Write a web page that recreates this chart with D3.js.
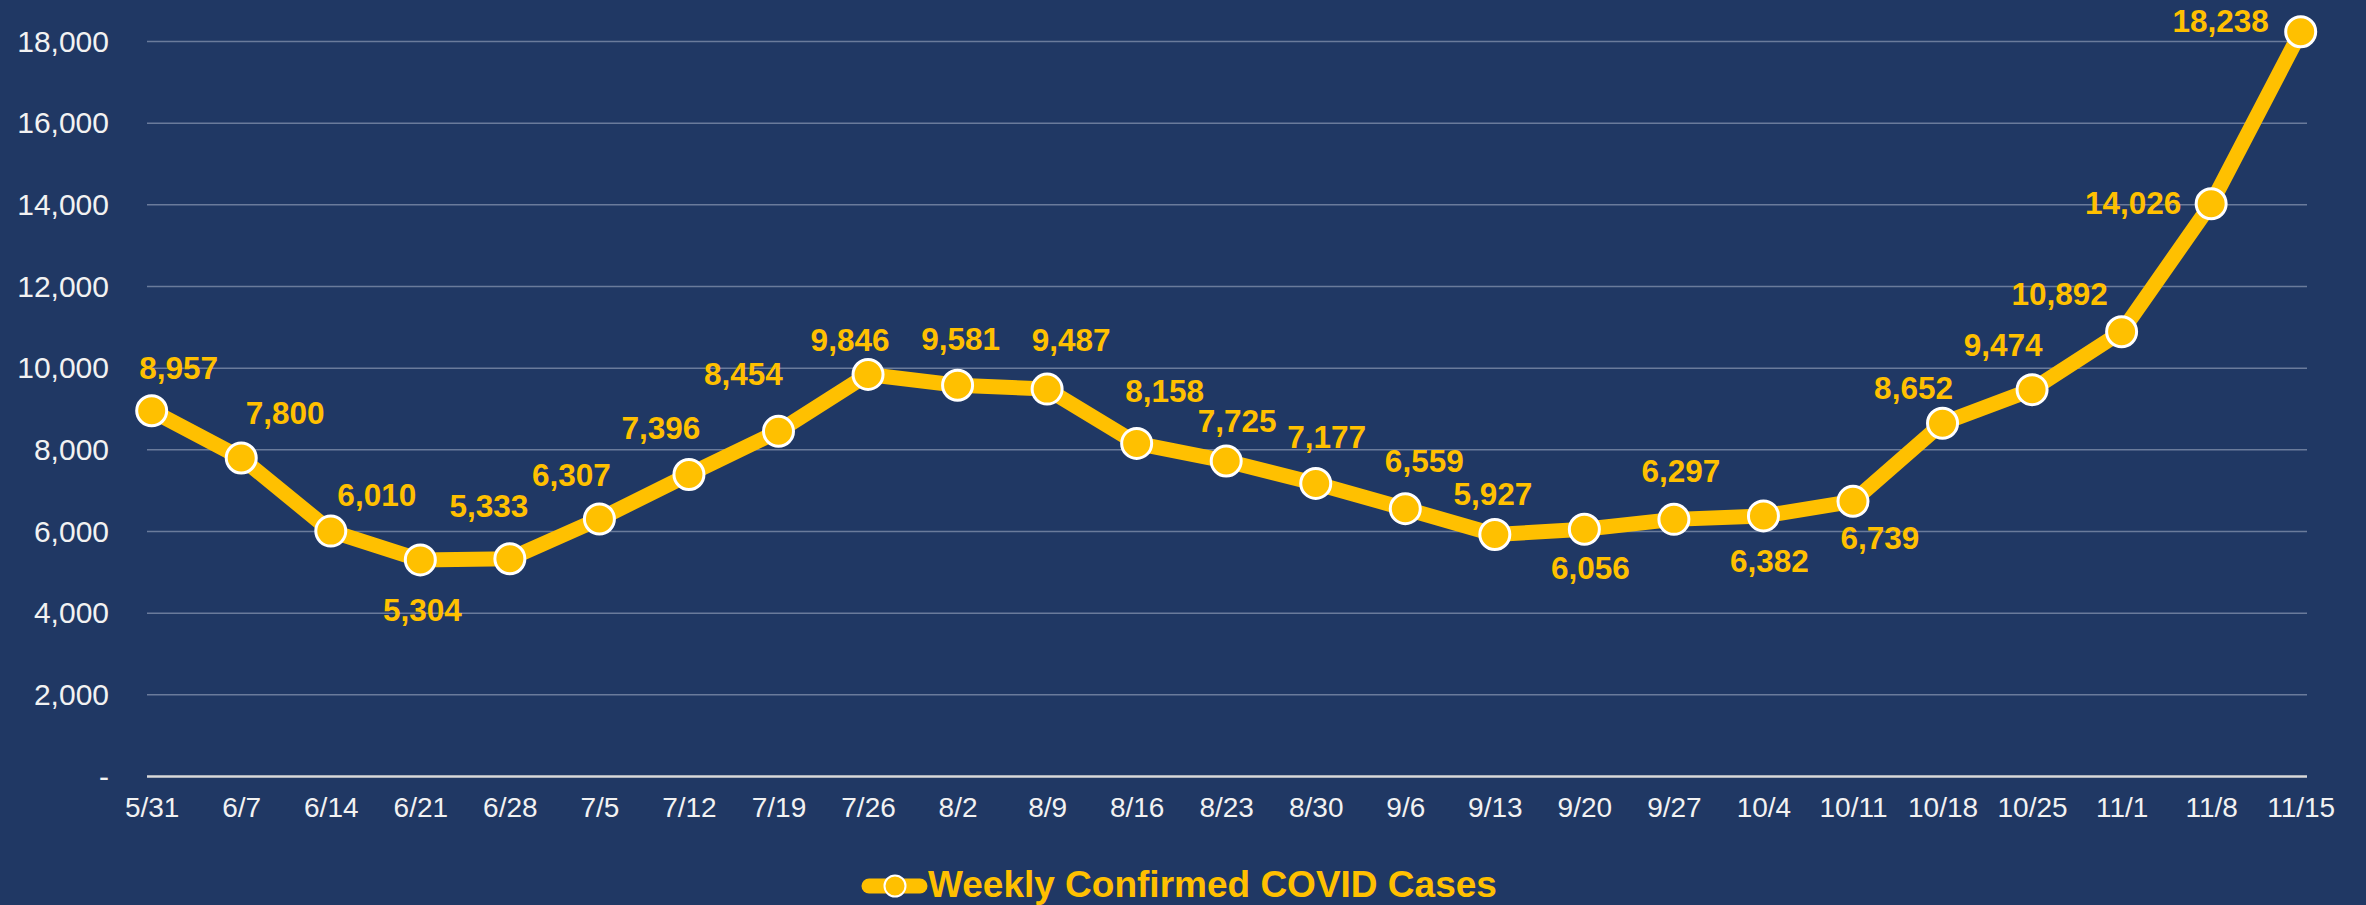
<!DOCTYPE html>
<html>
<head>
<meta charset="utf-8">
<script src="https://cdn.jsdelivr.net/npm/d3@7"></script>
<style>
  html, body { margin: 0; padding: 0; background: #203864; }
  svg { display: block; font-family: "Liberation Sans", Arial, sans-serif; }
</style>
</head>
<body>
<svg id="chart"></svg>
<script>
// Data
const weeks = ['5/31', '6/7', '6/14', '6/21', '6/28', '7/5', '7/12', '7/19', '7/26', '8/2', '8/9',
    '8/16', '8/23', '8/30', '9/6', '9/13', '9/20', '9/27', '10/4', '10/11', '10/18', '10/25',
    '11/1', '11/8', '11/15']
const cases = [8957, 7800, 6010, 5304, 5333, 6307, 7396, 8454, 9846, 9581, 9487,
    8158, 7725, 7177, 6559, 5927, 6056, 6297, 6382, 6739, 8652, 9474,
    10892, 14026, 18238]
const yTicks = [0, 2000, 4000, 6000, 8000, 10000, 12000, 14000, 16000, 18000]
const seriesName = 'Weekly Confirmed COVID Cases'

// label nudges (dx from point centre, dy to text baseline) - hand placed like the original
const labelNudge = [[27, -32], [44, -34], [46, -25], [2, 61], [-21, -42], [-28, -33], [-28, -35],
    [-35, -46], [-18, -23], [3, -35], [24, -38], [28, -41], [11, -29], [11, -35], [19, -37],
    [-2, -29], [6, 50], [7, -37], [6, 56], [27, 48], [-29, -24], [-29, -34], [-62, -27],
    [-78, 10], [-80, 0]]

const W = 2366, H = 905
const gold = '#FFC000', bg = '#203864'

let svg = d3.select('#chart').attr('width', W).attr('height', H)

svg.append('rect').attr('width', W).attr('height', H).attr('fill', bg)

let xScale = d3.scalePoint().domain(weeks).range([151.7, 2300.7]),
    yScale = d3.scaleLinear().domain([0, 18000]).range([776.5, 41.5])

// gridlines
svg.append('g')
    .attr('id', 'grid')
    .selectAll('line')
    .data(yTicks.filter(d => d > 0))
    .enter()
    .append('line')
    .attr('x1', 147)
    .attr('x2', 2307)
    .attr('y1', d => yScale(d))
    .attr('y2', d => yScale(d))
    .attr('stroke', '#6a7b9b')
    .attr('stroke-width', 1.5)

// y axis
let yAxis = svg.append('g')
    .attr('transform', 'translate(147,0)')
    .call(d3.axisLeft(yScale).tickValues(yTicks).tickSize(0).tickPadding(38)
        .tickFormat(d => d === 0 ? '-' : d3.format(',')(d)))
yAxis.select('.domain').remove()
yAxis.selectAll('text')
    .attr('fill', '#f2f2f2')
    .attr('font-size', 30)
    .attr('font-family', '"Liberation Sans", Arial, sans-serif')

// x axis
let xAxis = svg.append('g')
    .attr('transform', `translate(0,${yScale(0)})`)
    .call(d3.axisBottom(xScale).tickSize(0).tickPadding(21))
xAxis.select('.domain').remove()
xAxis.selectAll('text')
    .attr('fill', '#f2f2f2')
    .attr('font-size', 28)
    .attr('font-family', '"Liberation Sans", Arial, sans-serif')

svg.append('line')
    .attr('x1', 147)
    .attr('x2', 2307)
    .attr('y1', yScale(0))
    .attr('y2', yScale(0))
    .attr('stroke', '#d9d9d9')
    .attr('stroke-width', 2.5)

// line
let line = d3.line()
    .x((d, i) => xScale(weeks[i]))
    .y(d => yScale(d))

svg.append('path')
    .datum(cases)
    .attr('d', line)
    .attr('fill', 'none')
    .attr('stroke', gold)
    .attr('stroke-width', 15)
    .attr('stroke-linejoin', 'round')

svg.append('g')
    .attr('id', 'points')
    .selectAll('circle')
    .data(cases)
    .enter()
    .append('circle')
    .attr('cx', (d, i) => xScale(weeks[i]))
    .attr('cy', d => yScale(d))
    .attr('r', 15)
    .attr('fill', gold)
    .attr('stroke', '#ffffff')
    .attr('stroke-width', 3)

// data labels
svg.append('g')
    .attr('id', 'labels')
    .selectAll('text')
    .data(cases)
    .enter()
    .append('text')
    .attr('x', (d, i) => xScale(weeks[i]) + labelNudge[i][0])
    .attr('y', (d, i) => yScale(d) + labelNudge[i][1])
    .attr('text-anchor', 'middle')
    .attr('fill', gold)
    .attr('font-size', 31.5)
    .attr('font-weight', 'bold')
    .text(d => d3.format(',')(d))

// legend
let legend = svg.append('g').attr('transform', 'translate(862,886)')
legend.append('line')
    .attr('x1', 7).attr('x2', 58)
    .attr('y1', 0).attr('y2', 0)
    .attr('stroke', gold)
    .attr('stroke-width', 15)
    .attr('stroke-linecap', 'round')
legend.append('circle')
    .attr('cx', 33).attr('cy', 0).attr('r', 10.5)
    .attr('fill', gold)
    .attr('stroke', '#ffffff')
    .attr('stroke-width', 2)
legend.append('text')
    .attr('x', 66).attr('y', 11)
    .attr('fill', gold)
    .attr('font-size', 37)
    .attr('font-weight', 'bold')
    .text(seriesName)
</script>
</body>
</html>
